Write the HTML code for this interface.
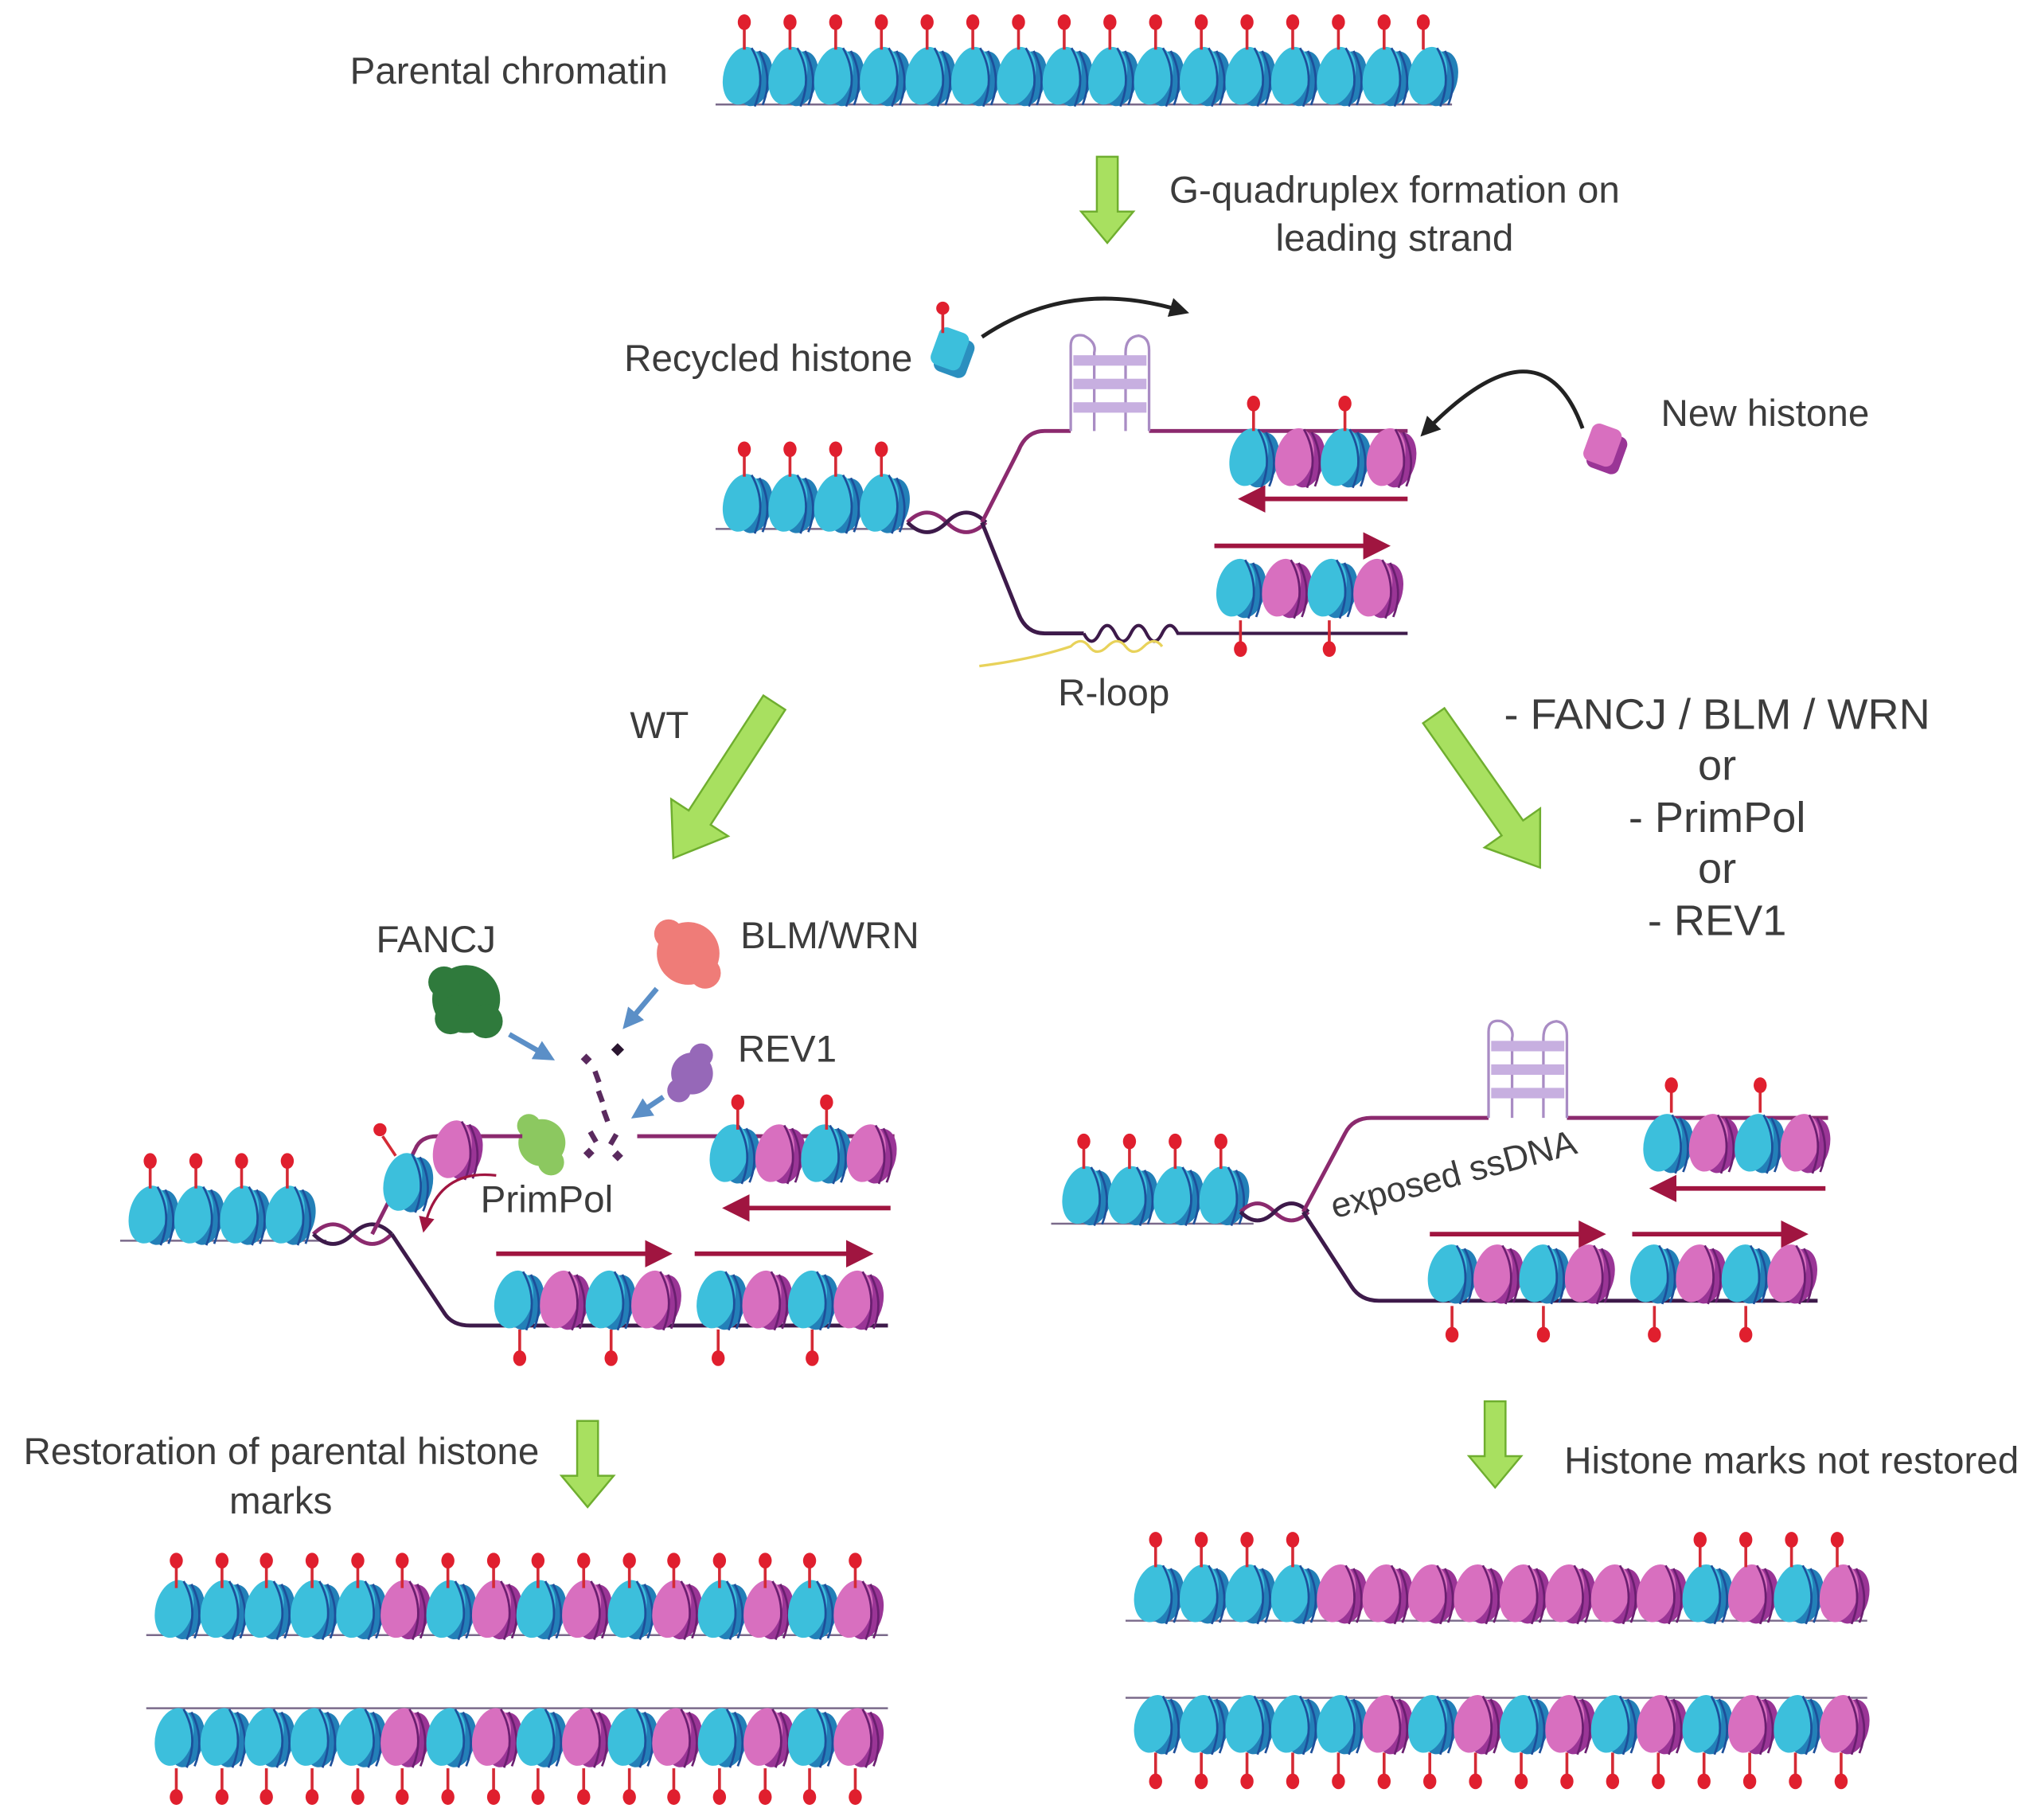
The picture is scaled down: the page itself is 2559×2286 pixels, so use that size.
<!DOCTYPE html>
<html><head><meta charset="utf-8"><style>
html,body{margin:0;padding:0;background:#fff;}
svg{display:block;}
text{font-family:"Liberation Sans",sans-serif;fill:#3c3c3c;}
</style></head><body>
<svg width="2559" height="2286" viewBox="0 0 1560 1393.6" xmlns="http://www.w3.org/2000/svg">
<defs>
<g id="nc"><g transform="scale(1.2,1.12)">
 <ellipse cx="5" cy="2" rx="11" ry="19" transform="rotate(12 5 2)" fill="#2380b8"/>
 <ellipse cx="-3" cy="0" rx="12" ry="20" transform="rotate(12 -3 0)" fill="#3cbfdc"/>
 <path d="M3,-19 Q13,0 5,21" fill="none" stroke="#1d4f9a" stroke-width="1.4"/>
 <path d="M8,-17 Q17,2 10,20" fill="none" stroke="#1d4f9a" stroke-width="1.4"/>
</g></g>
<g id="nm"><g transform="scale(1.2,1.12)">
 <ellipse cx="5" cy="2" rx="11" ry="19" transform="rotate(12 5 2)" fill="#9a3596"/>
 <ellipse cx="-3" cy="0" rx="12" ry="20" transform="rotate(12 -3 0)" fill="#d86fbf"/>
 <path d="M3,-19 Q13,0 5,21" fill="none" stroke="#6a1f70" stroke-width="1.4"/>
 <path d="M8,-17 Q17,2 10,20" fill="none" stroke="#6a1f70" stroke-width="1.4"/>
</g></g>
<g id="pu"><line x1="0" y1="-20" x2="0" y2="-38" stroke="#d42a35" stroke-width="2.2"/><ellipse cx="0" cy="-41" rx="5" ry="6" fill="#e01f2e"/></g>
<g id="pd"><line x1="0" y1="20" x2="0" y2="38" stroke="#d42a35" stroke-width="2.2"/><ellipse cx="0" cy="42" rx="5" ry="6" fill="#e01f2e"/></g>
<marker id="ar" markerWidth="6" markerHeight="6" refX="4" refY="3" orient="auto" markerUnits="strokeWidth"><path d="M0,0 L6,3 L0,6 z" fill="#a01540"/></marker>
<marker id="ab" markerWidth="5" markerHeight="5" refX="3" refY="2.5" orient="auto" markerUnits="strokeWidth"><path d="M0,0 L5,2.5 L0,5 z" fill="#222"/></marker>
<marker id="abl" markerWidth="4" markerHeight="4" refX="2" refY="2" orient="auto" markerUnits="strokeWidth"><path d="M0,0 L4,2 L0,4 z" fill="#5b8fc7"/></marker>
<g id="ga"><polygon points="-8,0 8,0 8,42 20,42 0,66 -20,42 -8,42" fill="#a8e060" stroke="#6fae2f" stroke-width="1.5"/></g>
</defs>

<!-- Top parental chromatin -->
<text x="268" y="64" font-size="29">Parental chromatin</text>
<path d="M548,80 L1112,80" stroke="#7a6a8a" stroke-width="1.5"/>
<g>
<use href="#nc" x="572" y="58"/><use href="#nc" x="607" y="58"/><use href="#nc" x="642" y="58"/><use href="#nc" x="677" y="58"/>
<use href="#nc" x="712" y="58"/><use href="#nc" x="747" y="58"/><use href="#nc" x="782" y="58"/><use href="#nc" x="817" y="58"/>
<use href="#nc" x="852" y="58"/><use href="#nc" x="887" y="58"/><use href="#nc" x="922" y="58"/><use href="#nc" x="957" y="58"/>
<use href="#nc" x="992" y="58"/><use href="#nc" x="1027" y="58"/><use href="#nc" x="1062" y="58"/><use href="#nc" x="1097" y="58"/>
<use href="#pu" x="570" y="58"/><use href="#pu" x="605" y="58"/><use href="#pu" x="640" y="58"/><use href="#pu" x="675" y="58"/>
<use href="#pu" x="710" y="58"/><use href="#pu" x="745" y="58"/><use href="#pu" x="780" y="58"/><use href="#pu" x="815" y="58"/>
<use href="#pu" x="850" y="58"/><use href="#pu" x="885" y="58"/><use href="#pu" x="920" y="58"/><use href="#pu" x="955" y="58"/>
<use href="#pu" x="990" y="58"/><use href="#pu" x="1025" y="58"/><use href="#pu" x="1060" y="58"/><use href="#pu" x="1090" y="58"/>
</g>

<use href="#ga" x="848" y="120"/>
<text x="1068" y="155" font-size="29" text-anchor="middle">G-quadruplex formation on</text>
<text x="1068" y="192" font-size="29" text-anchor="middle">leading strand</text>

<!-- Middle fork -->
<text x="478" y="284" font-size="29">Recycled histone</text>
<g transform="translate(732,272) rotate(20)">
 <rect x="-14" y="-14" width="26" height="30" rx="6" fill="#2b8fbf"/>
 <rect x="-18" y="-18" width="24" height="30" rx="6" fill="#3cbfdc"/>
</g>
<line x1="722" y1="255" x2="722" y2="240" stroke="#d42a35" stroke-width="2.2"/><circle cx="722" cy="236" r="5" fill="#e01f2e"/>
<path d="M752,258 Q820,212 905,238" fill="none" stroke="#222" stroke-width="3" marker-end="url(#ab)"/>

<text x="1272" y="326" font-size="29">New histone</text>
<g transform="translate(1230,345) rotate(20)">
 <rect x="-12" y="-14" width="26" height="30" rx="6" fill="#9a3596"/>
 <rect x="-16" y="-18" width="24" height="30" rx="6" fill="#d86fbf"/>
</g>
<path d="M1212,328 Q1180,240 1092,330" fill="none" stroke="#222" stroke-width="3" marker-end="url(#ab)"/>

<path d="M548,405 L700,405" stroke="#7a6a8a" stroke-width="1.5"/>
<use href="#nc" x="572" y="385"/><use href="#nc" x="607" y="385"/><use href="#nc" x="642" y="385"/><use href="#nc" x="677" y="385"/>
<use href="#pu" x="570" y="385"/><use href="#pu" x="605" y="385"/><use href="#pu" x="640" y="385"/><use href="#pu" x="675" y="385"/>
<path d="M695,400 Q710,385 725,400 T755,400" fill="none" stroke="#8b2a6e" stroke-width="3"/>
<path d="M695,400 Q710,415 725,400 T755,400" fill="none" stroke="#3d1a4a" stroke-width="3"/>
<path d="M752,400 L780,345 Q786,330 800,330 L820,330" fill="none" stroke="#8b2a6e" stroke-width="3"/>
<path d="M880,330 L1078,330" fill="none" stroke="#8b2a6e" stroke-width="3"/>
<g stroke="#a98cc4" stroke-width="2" fill="none">
<path d="M820,330 L820,265 Q820,255 830,257 Q840,262 838,270 L838,330"/>
<path d="M862,330 L862,270 Q862,258 872,257 Q880,258 880,268 L880,330"/>
</g>
<g fill="#c7afe0"><rect x="822" y="272" width="56" height="8"/><rect x="822" y="290" width="56" height="8"/><rect x="822" y="308" width="56" height="8"/></g>
<path d="M752,400 L780,470 Q786,485 800,485 L830,485" fill="none" stroke="#3d1a4a" stroke-width="3"/>
<path d="M830,485 q6,12 12,0 t12,0 t12,0 t12,0 t12,0 t12,0 L1078,485" fill="none" stroke="#3d1a4a" stroke-width="2.5"/>
<path d="M750,510 Q790,505 820,495 q8,-8 14,0 t14,0 t14,0 t14,0 t14,0" fill="none" stroke="#e8d25a" stroke-width="2"/>
<text x="853" y="540" font-size="29" text-anchor="middle">R-loop</text>

<use href="#nc" x="960" y="350"/><use href="#nm" x="995" y="350"/><use href="#nc" x="1030" y="350"/><use href="#nm" x="1065" y="350"/>
<use href="#pu" x="960" y="350"/><use href="#pu" x="1030" y="350"/>
<line x1="1078" y1="382" x2="955" y2="382" stroke="#a01540" stroke-width="3.5" marker-end="url(#ar)"/>
<line x1="930" y1="418" x2="1058" y2="418" stroke="#a01540" stroke-width="3.5" marker-end="url(#ar)"/>
<use href="#nc" x="950" y="450"/><use href="#nm" x="985" y="450"/><use href="#nc" x="1020" y="450"/><use href="#nm" x="1055" y="450"/>
<use href="#pd" x="950" y="455"/><use href="#pd" x="1018" y="455"/>

<!-- branch arrows -->
<text x="505" y="565" font-size="29" text-anchor="middle">WT</text>
<g transform="translate(593,538) rotate(33)"><polygon points="-10,0 10,0 10,105 26,105 0,142 -26,105 -10,105" fill="#a8e060" stroke="#6fae2f" stroke-width="1.5"/></g>
<g transform="translate(1098,548) rotate(-35)"><polygon points="-10,0 10,0 10,105 26,105 0,142 -26,105 -10,105" fill="#a8e060" stroke="#6fae2f" stroke-width="1.5"/></g>
<g font-size="33" text-anchor="middle">
<text x="1315" y="558">- FANCJ / BLM / WRN</text>
<text x="1315" y="597">or</text>
<text x="1315" y="637">- PrimPol</text>
<text x="1315" y="676">or</text>
<text x="1315" y="716">- REV1</text>
</g>

<!-- Left WT panel -->
<text x="288" y="729" font-size="29">FANCJ</text>
<text x="567" y="726" font-size="29">BLM/WRN</text>
<text x="565" y="813" font-size="29">REV1</text>
<g fill="#2f7a3c"><circle cx="357" cy="765" r="26"/><circle cx="340" cy="752" r="12"/><circle cx="372" cy="782" r="13"/><circle cx="345" cy="780" r="12"/></g>
<g fill="#ef7c78"><circle cx="527" cy="730" r="24"/><circle cx="512" cy="715" r="11"/><circle cx="540" cy="745" r="12"/></g>
<g fill="#9668b8"><circle cx="530" cy="822" r="16"/><circle cx="520" cy="835" r="9"/><circle cx="537" cy="808" r="9"/></g>
<g fill="#8cc860"><circle cx="415" cy="875" r="18"/><circle cx="405" cy="862" r="9"/><circle cx="422" cy="890" r="10"/></g>
<text x="368" y="928" font-size="29">PrimPol</text>
<g stroke="#5b8fc7" stroke-width="4" fill="none">
<line x1="390" y1="792" x2="418" y2="808" marker-end="url(#abl)"/>
<line x1="503" y1="757" x2="482" y2="782" marker-end="url(#abl)"/>
<line x1="508" y1="840" x2="490" y2="852" marker-end="url(#abl)"/>
</g>
<g fill="#5a2a5e">
<rect x="446" y="808" width="6" height="6" transform="rotate(45 449 811)"/><rect x="470" y="800" width="7" height="7" transform="rotate(45 473 803)" fill="#2a1530"/>
<rect x="455" y="820" width="4" height="9" transform="rotate(-20 457 824)"/><rect x="458" y="835" width="4" height="9" transform="rotate(-20 460 840)"/>
<rect x="462" y="850" width="4" height="9" transform="rotate(-20 464 855)"/><rect x="452" y="866" width="4" height="9" transform="rotate(-30 454 870)"/>
<rect x="468" y="868" width="4" height="9" transform="rotate(30 470 872)"/><rect x="448" y="880" width="6" height="6" transform="rotate(45 451 883)"/>
<rect x="470" y="882" width="6" height="6" transform="rotate(45 473 885)"/>
</g>

<path d="M92,950 L250,950" stroke="#7a6a8a" stroke-width="1.5"/>
<use href="#nc" x="117" y="930"/><use href="#nc" x="152" y="930"/><use href="#nc" x="187" y="930"/><use href="#nc" x="222" y="930"/>
<use href="#pu" x="115" y="930"/><use href="#pu" x="150" y="930"/><use href="#pu" x="185" y="930"/><use href="#pu" x="220" y="930"/>
<path d="M240,945 Q255,930 270,945 T300,945" fill="none" stroke="#8b2a6e" stroke-width="3"/>
<path d="M240,945 Q255,960 270,945 T300,945" fill="none" stroke="#3d1a4a" stroke-width="3"/>
<path d="M285,945 L318,880 Q322,870 335,870 L400,870" fill="none" stroke="#8b2a6e" stroke-width="3"/>
<path d="M488,870 L685,870" fill="none" stroke="#8b2a6e" stroke-width="3"/>
<use href="#nc" x="312" y="905"/>
<line x1="303" y1="885" x2="293" y2="870" stroke="#d42a35" stroke-width="2.2"/><circle cx="291" cy="865" r="5" fill="#e01f2e"/>
<use href="#nm" x="350" y="880"/>
<path d="M380,900 Q335,895 325,940" fill="none" stroke="#a01540" stroke-width="2" marker-end="url(#ar)"/>
<path d="M300,945 L340,1005 Q346,1015 360,1015 L680,1015" fill="none" stroke="#3d1a4a" stroke-width="3"/>
<use href="#nc" x="562" y="883"/><use href="#nm" x="597" y="883"/><use href="#nc" x="632" y="883"/><use href="#nm" x="667" y="883"/>
<use href="#pu" x="565" y="885"/><use href="#pu" x="633" y="885"/>
<line x1="682" y1="925" x2="560" y2="925" stroke="#a01540" stroke-width="3.5" marker-end="url(#ar)"/>
<line x1="380" y1="960" x2="508" y2="960" stroke="#a01540" stroke-width="3.5" marker-end="url(#ar)"/>
<line x1="532" y1="960" x2="662" y2="960" stroke="#a01540" stroke-width="3.5" marker-end="url(#ar)"/>
<use href="#nc" x="397" y="995"/><use href="#nm" x="432" y="995"/><use href="#nc" x="467" y="995"/><use href="#nm" x="502" y="995"/>
<use href="#nc" x="552" y="995"/><use href="#nm" x="587" y="995"/><use href="#nc" x="622" y="995"/><use href="#nm" x="657" y="995"/>
<use href="#pd" x="398" y="998"/><use href="#pd" x="468" y="998"/><use href="#pd" x="550" y="998"/><use href="#pd" x="622" y="998"/>

<text x="18" y="1121" font-size="29">Restoration of parental histone</text>
<text x="215" y="1159" font-size="29" text-anchor="middle">marks</text>
<use href="#ga" x="450" y="1088"/>

<!-- bottom-left rows -->
<path d="M112,1252 L680,1252" stroke="#7a6a8a" stroke-width="1.5"/>
<g>
<use href="#nc" x="137" y="1232"/><use href="#nc" x="172" y="1232"/><use href="#nc" x="206" y="1232"/><use href="#nc" x="241" y="1232"/>
<use href="#nc" x="276" y="1232"/><use href="#nm" x="310" y="1232"/><use href="#nc" x="345" y="1232"/><use href="#nm" x="380" y="1232"/>
<use href="#nc" x="414" y="1232"/><use href="#nm" x="449" y="1232"/><use href="#nc" x="484" y="1232"/><use href="#nm" x="518" y="1232"/>
<use href="#nc" x="553" y="1232"/><use href="#nm" x="588" y="1232"/><use href="#nc" x="622" y="1232"/><use href="#nm" x="657" y="1232"/>
<use href="#pu" x="135" y="1236"/><use href="#pu" x="170" y="1236"/><use href="#pu" x="204" y="1236"/><use href="#pu" x="239" y="1236"/>
<use href="#pu" x="274" y="1236"/><use href="#pu" x="308" y="1236"/><use href="#pu" x="343" y="1236"/><use href="#pu" x="378" y="1236"/>
<use href="#pu" x="412" y="1236"/><use href="#pu" x="447" y="1236"/><use href="#pu" x="482" y="1236"/><use href="#pu" x="516" y="1236"/>
<use href="#pu" x="551" y="1236"/><use href="#pu" x="586" y="1236"/><use href="#pu" x="620" y="1236"/><use href="#pu" x="655" y="1236"/>
</g>
<path d="M112,1308 L680,1308" stroke="#7a6a8a" stroke-width="1.5"/>
<g>
<use href="#nc" x="137" y="1330"/><use href="#nc" x="172" y="1330"/><use href="#nc" x="206" y="1330"/><use href="#nc" x="241" y="1330"/>
<use href="#nc" x="276" y="1330"/><use href="#nm" x="310" y="1330"/><use href="#nc" x="345" y="1330"/><use href="#nm" x="380" y="1330"/>
<use href="#nc" x="414" y="1330"/><use href="#nm" x="449" y="1330"/><use href="#nc" x="484" y="1330"/><use href="#nm" x="518" y="1330"/>
<use href="#nc" x="553" y="1330"/><use href="#nm" x="588" y="1330"/><use href="#nc" x="622" y="1330"/><use href="#nm" x="657" y="1330"/>
<use href="#pd" x="135" y="1334"/><use href="#pd" x="170" y="1334"/><use href="#pd" x="204" y="1334"/><use href="#pd" x="239" y="1334"/>
<use href="#pd" x="274" y="1334"/><use href="#pd" x="308" y="1334"/><use href="#pd" x="343" y="1334"/><use href="#pd" x="378" y="1334"/>
<use href="#pd" x="412" y="1334"/><use href="#pd" x="447" y="1334"/><use href="#pd" x="482" y="1334"/><use href="#pd" x="516" y="1334"/>
<use href="#pd" x="551" y="1334"/><use href="#pd" x="586" y="1334"/><use href="#pd" x="620" y="1334"/><use href="#pd" x="655" y="1334"/>
</g>

<!-- Right mutant panel -->
<path d="M805,937 L960,937" stroke="#7a6a8a" stroke-width="1.5"/>
<use href="#nc" x="832" y="915"/><use href="#nc" x="867" y="915"/><use href="#nc" x="902" y="915"/><use href="#nc" x="937" y="915"/>
<use href="#pu" x="830" y="915"/><use href="#pu" x="865" y="915"/><use href="#pu" x="900" y="915"/><use href="#pu" x="935" y="915"/>
<path d="M950,928 Q963,915 976,928 T1002,928" fill="none" stroke="#8b2a6e" stroke-width="3"/>
<path d="M950,928 Q963,941 976,928 T1002,928" fill="none" stroke="#3d1a4a" stroke-width="3"/>
<path d="M998,928 L1030,868 Q1036,856 1050,856 L1140,856" fill="none" stroke="#8b2a6e" stroke-width="3"/>
<path d="M1200,856 L1400,856" fill="none" stroke="#8b2a6e" stroke-width="3"/>
<g stroke="#a98cc4" stroke-width="2" fill="none">
<path d="M1140,856 L1140,790 Q1140,780 1150,782 Q1160,787 1158,795 L1158,856"/>
<path d="M1182,856 L1182,795 Q1182,783 1192,782 Q1200,783 1200,793 L1200,856"/>
</g>
<g fill="#c7afe0"><rect x="1142" y="797" width="56" height="8"/><rect x="1142" y="815" width="56" height="8"/><rect x="1142" y="833" width="56" height="8"/></g>
<text x="1022" y="933" font-size="27" transform="rotate(-15 1022 933)">exposed ssDNA</text>
<path d="M998,928 L1035,985 Q1042,996 1056,996 L1392,996" fill="none" stroke="#3d1a4a" stroke-width="3"/>
<use href="#nc" x="1277" y="875"/><use href="#nm" x="1312" y="875"/><use href="#nc" x="1347" y="875"/><use href="#nm" x="1382" y="875"/>
<use href="#pu" x="1280" y="872"/><use href="#pu" x="1348" y="872"/>
<line x1="1398" y1="910" x2="1270" y2="910" stroke="#a01540" stroke-width="3.5" marker-end="url(#ar)"/>
<line x1="1095" y1="945" x2="1223" y2="945" stroke="#a01540" stroke-width="3.5" marker-end="url(#ar)"/>
<line x1="1250" y1="945" x2="1378" y2="945" stroke="#a01540" stroke-width="3.5" marker-end="url(#ar)"/>
<use href="#nc" x="1112" y="975"/><use href="#nm" x="1147" y="975"/><use href="#nc" x="1182" y="975"/><use href="#nm" x="1217" y="975"/>
<use href="#nc" x="1267" y="975"/><use href="#nm" x="1302" y="975"/><use href="#nc" x="1337" y="975"/><use href="#nm" x="1372" y="975"/>
<use href="#pd" x="1112" y="980"/><use href="#pd" x="1182" y="980"/><use href="#pd" x="1267" y="980"/><use href="#pd" x="1337" y="980"/>

<use href="#ga" x="1145" y="1073"/>
<text x="1198" y="1128" font-size="29">Histone marks not restored</text>

<!-- bottom-right rows -->
<path d="M862,1241 L1430,1241" stroke="#7a6a8a" stroke-width="1.5"/>
<g>
<use href="#nc" x="887" y="1220"/><use href="#nc" x="922" y="1220"/><use href="#nc" x="957" y="1220"/><use href="#nc" x="992" y="1220"/>
<use href="#nm" x="1027" y="1220"/><use href="#nm" x="1062" y="1220"/><use href="#nm" x="1097" y="1220"/><use href="#nm" x="1132" y="1220"/>
<use href="#nm" x="1167" y="1220"/><use href="#nm" x="1202" y="1220"/><use href="#nm" x="1237" y="1220"/><use href="#nm" x="1272" y="1220"/>
<use href="#nc" x="1307" y="1220"/><use href="#nm" x="1342" y="1220"/><use href="#nc" x="1377" y="1220"/><use href="#nm" x="1412" y="1220"/>
<use href="#pu" x="885" y="1220"/><use href="#pu" x="920" y="1220"/><use href="#pu" x="955" y="1220"/><use href="#pu" x="990" y="1220"/>
<use href="#pu" x="1302" y="1220"/><use href="#pu" x="1337" y="1220"/><use href="#pu" x="1372" y="1220"/><use href="#pu" x="1407" y="1220"/>
</g>
<path d="M862,1300 L1430,1300" stroke="#7a6a8a" stroke-width="1.5"/>
<g>
<use href="#nc" x="887" y="1320"/><use href="#nc" x="922" y="1320"/><use href="#nc" x="957" y="1320"/><use href="#nc" x="992" y="1320"/>
<use href="#nc" x="1027" y="1320"/><use href="#nm" x="1062" y="1320"/><use href="#nc" x="1097" y="1320"/><use href="#nm" x="1132" y="1320"/>
<use href="#nc" x="1167" y="1320"/><use href="#nm" x="1202" y="1320"/><use href="#nc" x="1237" y="1320"/><use href="#nm" x="1272" y="1320"/>
<use href="#nc" x="1307" y="1320"/><use href="#nm" x="1342" y="1320"/><use href="#nc" x="1377" y="1320"/><use href="#nm" x="1412" y="1320"/>
<use href="#pd" x="885" y="1322"/><use href="#pd" x="920" y="1322"/><use href="#pd" x="955" y="1322"/><use href="#pd" x="990" y="1322"/>
<use href="#pd" x="1025" y="1322"/><use href="#pd" x="1060" y="1322"/><use href="#pd" x="1095" y="1322"/><use href="#pd" x="1130" y="1322"/>
<use href="#pd" x="1165" y="1322"/><use href="#pd" x="1200" y="1322"/><use href="#pd" x="1235" y="1322"/><use href="#pd" x="1270" y="1322"/>
<use href="#pd" x="1305" y="1322"/><use href="#pd" x="1340" y="1322"/><use href="#pd" x="1375" y="1322"/><use href="#pd" x="1410" y="1322"/>
</g>
</svg>
</body></html>
